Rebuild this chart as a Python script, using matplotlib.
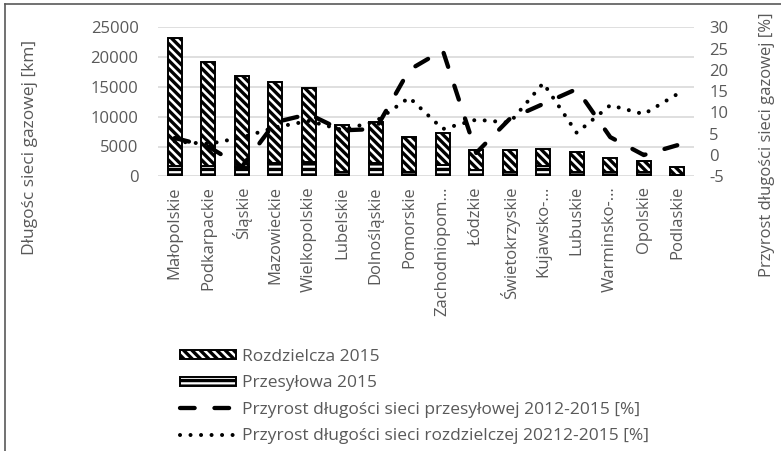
import matplotlib
matplotlib.use("Agg")
import matplotlib.pyplot as plt
from matplotlib.lines import Line2D
import numpy as np

plt.rcParams['font.family'] = ['Open Sans', 'DejaVu Sans']
plt.rcParams['hatch.linewidth'] = 2.4

regions = ["Małopolskie", "Podkarpackie", "Śląskie", "Mazowieckie", "Wielkopolskie",
           "Lubelskie", "Dolnośląskie", "Pomorskie", "Zachodniopom…", "Łódzkie",
           "Świetokrzyskie", "Kujawsko-…", "Lubuskie", "Warminsko-…", "Opolskie", "Podlaskie"]
przesylowa_2015 = [1730, 1700, 1600, 2180, 2450, 800, 2300, 770, 1900, 1000,
                   770, 1730, 770, 770, 700, 300]
total_2015 = [23250, 19230, 16830, 15870, 14770, 8610, 9110, 6540, 7220, 4410,
              4330, 4530, 4030, 3120, 2520, 1610]
rozdzielcza_2015 = [t - p for t, p in zip(total_2015, przesylowa_2015)]
przyrost_przesylowej = [4.0, 2.0, -2.8, 7.7, 9.6, 5.8, 6.1, 20.0, 24.6, 0.5,
                        8.5, 12.0, 15.5, 4.2, 0.0, 2.3]
przyrost_rozdzielczej = [3.2, 2.6, 4.1, 6.5, 8.0, 5.9, 7.9, 13.5, 6.1, 8.3,
                         7.6, 16.9, 5.2, 11.7, 9.6, 14.3]
left_ticks = [0, 5000, 10000, 15000, 20000, 25000]
right_ticks = [-5, 0, 5, 10, 15, 20, 25, 30]

TXT = '#595959'
W, H = 781, 451
fig = plt.figure(figsize=(W / 100, H / 100), dpi=100)
ax = fig.add_axes([158 / W, 1 - 176.3 / H, (694 - 158) / W, (176.3 - 27.3) / H])

x = np.arange(len(regions))
bw = 0.42
b1 = ax.bar(x, przesylowa_2015, width=bw, color='white', edgecolor='black',
            linewidth=1.4, hatch='---', label='Przesyłowa 2015', zorder=2)
b2 = ax.bar(x, rozdzielcza_2015, width=bw, bottom=przesylowa_2015, color='white',
            edgecolor='black', linewidth=1.4, hatch='\\\\\\\\', label='Rozdzielcza 2015', zorder=2)

ax.set_xlim(-0.5, len(regions) - 0.5)
ax.set_ylim(0, 25000)
ax.set_yticks(left_ticks)
ax.set_yticklabels([str(v) for v in left_ticks])
ax.set_xticks(x)
ax.set_xticklabels(regions, rotation=90, fontsize=12, color=TXT)
ax.tick_params(axis='x', length=0, pad=7)
ax.tick_params(axis='y', length=0, pad=14, labelsize=12, labelcolor=TXT)
ax.grid(axis='y', color='#d9d9d9', linewidth=1.2)
ax.set_axisbelow(True)
for s in ax.spines.values():
    s.set_visible(False)

ax2 = ax.twinx()
l1, = ax2.plot(x, przyrost_przesylowej, color='black', linewidth=3.1,
               linestyle=(0, (3.4, 4.6)), dash_capstyle='round',
               label='Przyrost długości sieci przesyłowej 2012-2015 [%]', zorder=3)
l2, = ax2.plot(x, przyrost_rozdzielczej, color='black', linewidth=2.9,
               linestyle=(0, (0.01, 2.6)), dash_capstyle='round',
               label='Przyrost długości sieci rozdzielczej 20212-2015 [%]', zorder=3)
ax2.set_ylim(-5, 30)
ax2.set_yticks(right_ticks)
ax2.set_yticklabels([str(v) for v in right_ticks])
ax2.tick_params(axis='y', length=0, pad=11, labelsize=12, labelcolor=TXT)
for s in ax2.spines.values():
    s.set_visible(False)

fig.text(30 / W, 1 - 147 / H, 'Długośc sieci gazowej [km]', rotation=90,
         ha='center', va='center', fontsize=12.5, color=TXT)
fig.text(767 / W, 1 - 145 / H, 'Przyrost długości sieci gazowej [%]', rotation=90,
         ha='center', va='center', fontsize=12, color=TXT)

leg = fig.legend(handles=[b2, b1, l1, l2], loc='upper left',
                 bbox_to_anchor=(180 / W, 1 - 349 / H), frameon=False,
                 fontsize=12.5, handlelength=3.2, handleheight=0.45,
                 handletextpad=0.4, labelspacing=0.6, borderpad=0, borderaxespad=0)
for t in leg.get_texts():
    t.set_color(TXT)

fig.add_artist(Line2D([5 / W, 5 / W], [0, 1 - 4 / H], color='#595959', linewidth=1.2,
                      transform=fig.transFigure))
fig.add_artist(Line2D([5 / W, 1], [1 - 4 / H, 1 - 4 / H], color='#595959', linewidth=1.2,
                      transform=fig.transFigure))

fig.savefig('out.png', dpi=100)
